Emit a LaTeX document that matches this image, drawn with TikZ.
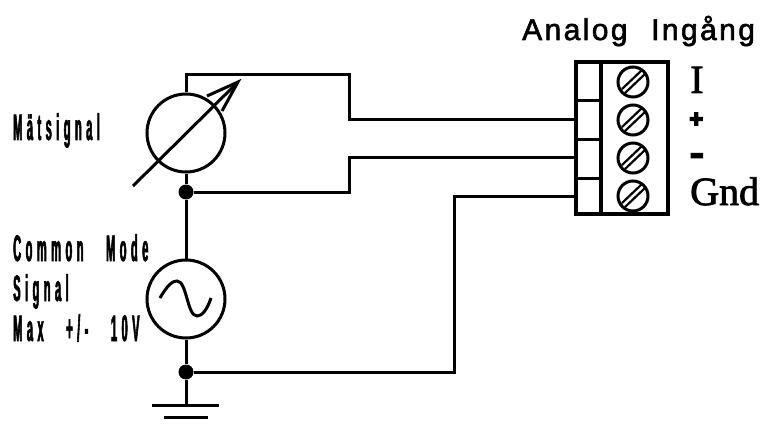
\documentclass[tikz,border=0pt]{standalone}
\usepackage{fontspec}
\setmainfont{Liberation Serif}
\newfontfamily\headfont[LetterSpace=8,WordSpace=2.2,FakeBold=2]{Liberation Sans}
\newfontfamily\boldsans[FakeBold=6]{Liberation Sans Bold}
\newfontfamily\narrowfont[FakeStretch=0.3,LetterSpace=12,WordSpace=3,FakeBold=1.5]{Liberation Sans Bold}
\newfontfamily\termfont[FakeBold=2]{Liberation Serif}
\newfontfamily\termbold[FakeBold=5]{Liberation Serif Bold}
\tikzset{
  wire/.style={line width=3pt,line join=miter},
  ring/.style={circle,draw,line width=3pt,minimum size=78pt,inner sep=0pt},
  junction/.style={circle,fill=black,minimum size=15pt,inner sep=0pt},
  screw/.style={circle,draw,line width=3pt,minimum size=30pt,inner sep=0pt},
  lab/.style={anchor=base west,inner sep=0pt,font=\narrowfont\fontsize{37}{37}\selectfont},
  term/.style={anchor=base west,inner sep=0pt,font=\termfont\fontsize{40}{40}\selectfont},
}
\begin{document}
\begin{tikzpicture}[x=1pt,y=-1pt]
\useasboundingbox (0,0) rectangle (763,425);
% instruments
\node[ring] (meter) at (186,133) {};
\node[ring] (ac) at (186,299) {};
\node[junction] (j1) at (186,192) {};
\node[junction] (j2) at (186,372) {};
\coordinate (g1l) at (152,405); \coordinate (g1r) at (219,405); \coordinate (g1m) at (186,405);
\coordinate (g2l) at (164,417); \coordinate (g2r) at (208,417);
\draw[wire] (meter) -- (j1) -- (ac) -- (j2) -- (g1m);
\draw[wire] (g1l) -- (g1r);
\draw[wire] (g2l) -- (g2r);
% arrow through meter
\coordinate (as) at (133,186); \coordinate (at) at (238,82);
\coordinate (a1) at (207,96); \coordinate (a2) at (222,111);
\draw[line width=3pt] (as) -- (at);
\draw[line width=3pt] (a1) -- (at) -- (a2);
% sine
\draw[line width=3pt] (160,298) .. controls (168,284) and (173,281) .. (177,281)
  .. controls (187,281) and (187,316) .. (197,316)
  .. controls (202,316) and (207,310) .. (211,298);
% terminal block
\node[draw,line width=3.4pt,minimum width=92pt,minimum height=152pt,inner sep=0pt] (block) at (622,138) {};
\coordinate (d1) at (601,62); \coordinate (d2) at (601,214);
\draw[line width=3.4pt] (d1) -- (d2);
\coordinate (t1) at (576,101); \coordinate (t2) at (576,140); \coordinate (t3) at (576,178);
\draw[wire] (t1) -- (601,101);
\draw[wire] (t2) -- (601,140);
\draw[wire] (t3) -- (601,178);
\foreach \n/\y in {s1/82,s2/120,s3/158,s4/196}{
  \node[screw] (\n) at (633,\y) {};
  \draw[line width=2.2pt] (\n.center) ++(-11,7) -- ++(20,-19);
  \draw[line width=2.2pt] (\n.center) ++(-8,11) -- ++(20,-19);
}
% wires
\coordinate (p1) at (576,120); \coordinate (p2) at (576,158); \coordinate (p3) at (576,196);
\draw[wire] (meter.north) -- (186,75) -- (349,75) -- (349,120) -- (p1);
\draw[wire] (j1) -- (349,192) -- (349,158) -- (p2);
\draw[wire] (j2) -- (454,372) -- (454,196) -- (p3);
% labels
\node[anchor=base west,inner sep=0pt,font=\headfont\fontsize{30}{30}\selectfont] (title) at (522,40) {Analog Ingång};
\node[term] (li) at (690,93) {I};
\node[anchor=base west,inner sep=0pt,font=\boldsans\fontsize{24}{24}\selectfont] (lp) at (689,127) {+};
\node[anchor=base west,inner sep=0pt,font=\termbold\fontsize{40}{40}\selectfont] (lm) at (690,165) {-};
\node[term] (lg) at (690,205) {Gnd};
\node[lab] (l1) at (13,140) {Mätsignal};
\node[lab] (l2) at (13,261) {Common Mode};
\node[lab] (l3) at (13,301) {Signal};
\node[lab] (l4) at (13,341) {Max +/- 10V};
\end{tikzpicture}
\end{document}
